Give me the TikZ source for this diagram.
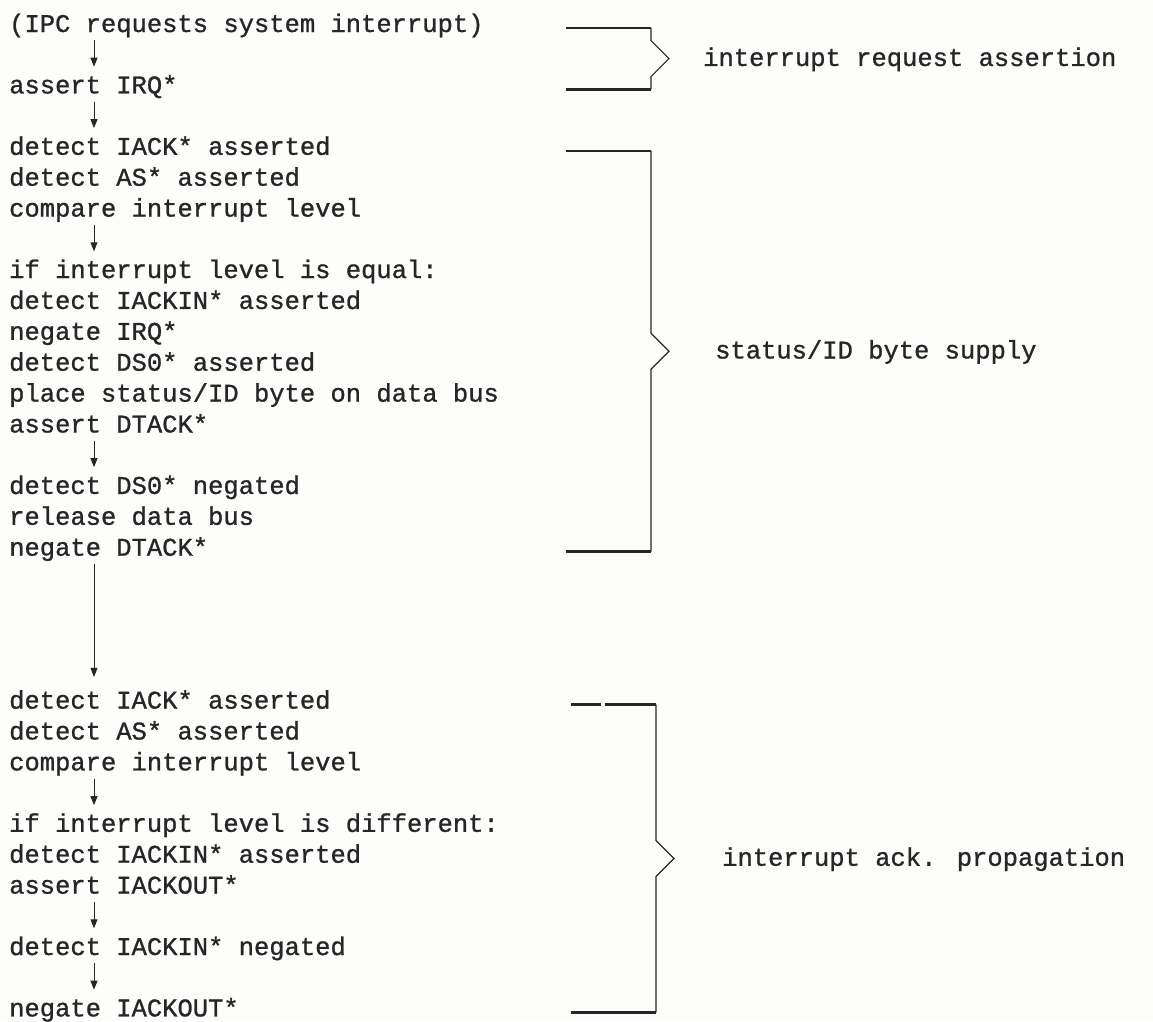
\documentclass[tikz,border=0pt]{standalone}
\usepackage{fontspec}
\newfontfamily\typefont{Liberation Mono}[FakeBold=1]
\usetikzlibrary{arrows.meta, positioning, calc}
\definecolor{ink}{RGB}{38,38,38}
\definecolor{paper}{RGB}{253,253,251}

\begin{document}
\begin{tikzpicture}[
  x=1pt, y=-1pt,
  stmt/.style={inner sep=0pt, text height=22.5pt, text depth=8pt, text=ink,
               font=\typefont\fontsize{25.5}{30.5}\selectfont},
  note/.style={stmt, anchor=west},
  flow/.style={-{Triangle[length=9pt, width=7pt]}, line width=0.9pt, ink, shorten >=4pt},
  bar/.style={line width=2.6pt, ink},
  rule/.style={line width=1.1pt, ink, line join=miter},
]
  \path[use as bounding box, fill=paper] (0,0) rectangle (1153,1021);
  \coordinate (ax) at (94,0);
  \coordinate (bl) at (566,0);
  \coordinate (bx) at (651,0);
  \coordinate (bl3) at (571,0);
  \coordinate (bx3) at (656,0);

  % left column
  \node[stmt, anchor=base west] (ipc) at (9,32) {(IPC requests system interrupt)};
  \node[stmt, below right=30.5pt and 0pt of ipc.south west] (irq) {assert IRQ*};
  \node[stmt, below right=30.5pt and 0pt of irq.south west] (iack) {detect IACK* asserted};
  \node[stmt, below right=0pt and 0pt of iack.south west] (as) {detect AS* asserted};
  \node[stmt, below right=0pt and 0pt of as.south west] (cmp) {compare interrupt level};
  \node[stmt, below right=30.5pt and 0pt of cmp.south west] (eq) {if interrupt level is equal:};
  \node[stmt, below right=0pt and 0pt of eq.south west] (iackin) {detect IACKIN* asserted};
  \node[stmt, below right=0pt and 0pt of iackin.south west] (nirq) {negate IRQ*};
  \node[stmt, below right=0pt and 0pt of nirq.south west] (ds) {detect DS0* asserted};
  \node[stmt, below right=0pt and 0pt of ds.south west] (place) {place status/ID byte on data bus};
  \node[stmt, below right=0pt and 0pt of place.south west] (dtack) {assert DTACK*};
  \node[stmt, below right=30.5pt and 0pt of dtack.south west] (dsneg) {detect DS0* negated};
  \node[stmt, below right=0pt and 0pt of dsneg.south west] (rel) {release data bus};
  \node[stmt, below right=0pt and 0pt of rel.south west] (ndtack) {negate DTACK*};
  \node[stmt, below right=122pt and 0pt of ndtack.south west] (iackb) {detect IACK* asserted};
  \node[stmt, below right=0pt and 0pt of iackb.south west] (asb) {detect AS* asserted};
  \node[stmt, below right=0pt and 0pt of asb.south west] (cmpb) {compare interrupt level};
  \node[stmt, below right=30.5pt and 0pt of cmpb.south west] (diff) {if interrupt level is different:};
  \node[stmt, below right=0pt and 0pt of diff.south west] (iackinb) {detect IACKIN* asserted};
  \node[stmt, below right=0pt and 0pt of iackinb.south west] (aout) {assert IACKOUT*};
  \node[stmt, below right=30.5pt and 0pt of aout.south west] (inneg) {detect IACKIN* negated};
  \node[stmt, below right=30.5pt and 0pt of inneg.south west] (nout) {negate IACKOUT*};

  \draw[flow] (ipc.south -| ax) -- (irq.north -| ax);
  \draw[flow] (irq.south -| ax) -- (iack.north -| ax);
  \draw[flow] (cmp.south -| ax) -- (eq.north -| ax);
  \draw[flow] (dtack.south -| ax) -- (dsneg.north -| ax);
  \draw[flow, shorten >=9pt] (ndtack.south -| ax) -- (iackb.north -| ax);
  \draw[flow] (cmpb.south -| ax) -- (diff.north -| ax);
  \draw[flow] (aout.south -| ax) -- (inneg.north -| ax);
  \draw[flow] (inneg.south -| ax) -- (nout.north -| ax);

  % brackets
  \coordinate (r1t) at ($(ipc.base -| bx)+(0,-4)$);
  \coordinate (r1b) at ($(irq.base -| bx)+(0,-4)$);
  \draw[bar] (r1t -| bl) -- (r1t);
  \draw[bar] (r1b -| bl) -- (r1b);
  \draw[rule] (r1t) -- ($(r1t)!.5!(r1b)+(0,-18)$) -- ($(r1t)!.5!(r1b)+(18,0)$)
    -- ($(r1t)!.5!(r1b)+(0,18)$) -- (r1b);
  \node[note] (req) at ($(r1t)!.5!(r1b)+(52,0)$) {interrupt request assertion};

  \coordinate (r2t) at ($(iack.base -| bx)+(0,-4)$);
  \coordinate (r2b) at ($(ndtack.base -| bx)+(0,-4)$);
  \draw[bar] (r2t -| bl) -- (r2t);
  \draw[bar] (r2b -| bl) -- (r2b);
  \draw[rule] (r2t) -- ($(r2t)!.5!(r2b)+(0,-18)$) -- ($(r2t)!.5!(r2b)+(18,0)$)
    -- ($(r2t)!.5!(r2b)+(0,18)$) -- (r2b);
  \node[note] (supply) at ($(r2t)!.5!(r2b)+(64,0)$) {status/ID byte supply};

  \coordinate (r3t) at ($(iackb.base -| bx3)+(0,-4)$);
  \coordinate (r3b) at ($(nout.base -| bx3)+(0,-4)$);
  \draw[bar] (r3t -| bl3) -- ($(r3t -| bl3)+(30,0)$);
  \draw[bar] ($(r3t -| bl3)+(34,0)$) -- (r3t);
  \draw[bar] (r3b -| bl3) -- (r3b);
  \draw[rule] (r3t) -- ($(r3t)!.5!(r3b)+(0,-18)$) -- ($(r3t)!.5!(r3b)+(18,0)$)
    -- ($(r3t)!.5!(r3b)+(0,18)$) -- (r3b);
  \node[note] (prop) at ($(r3t)!.5!(r3b)+(66,0)$) {interrupt ack. propagation};
\end{tikzpicture}
\end{document}
